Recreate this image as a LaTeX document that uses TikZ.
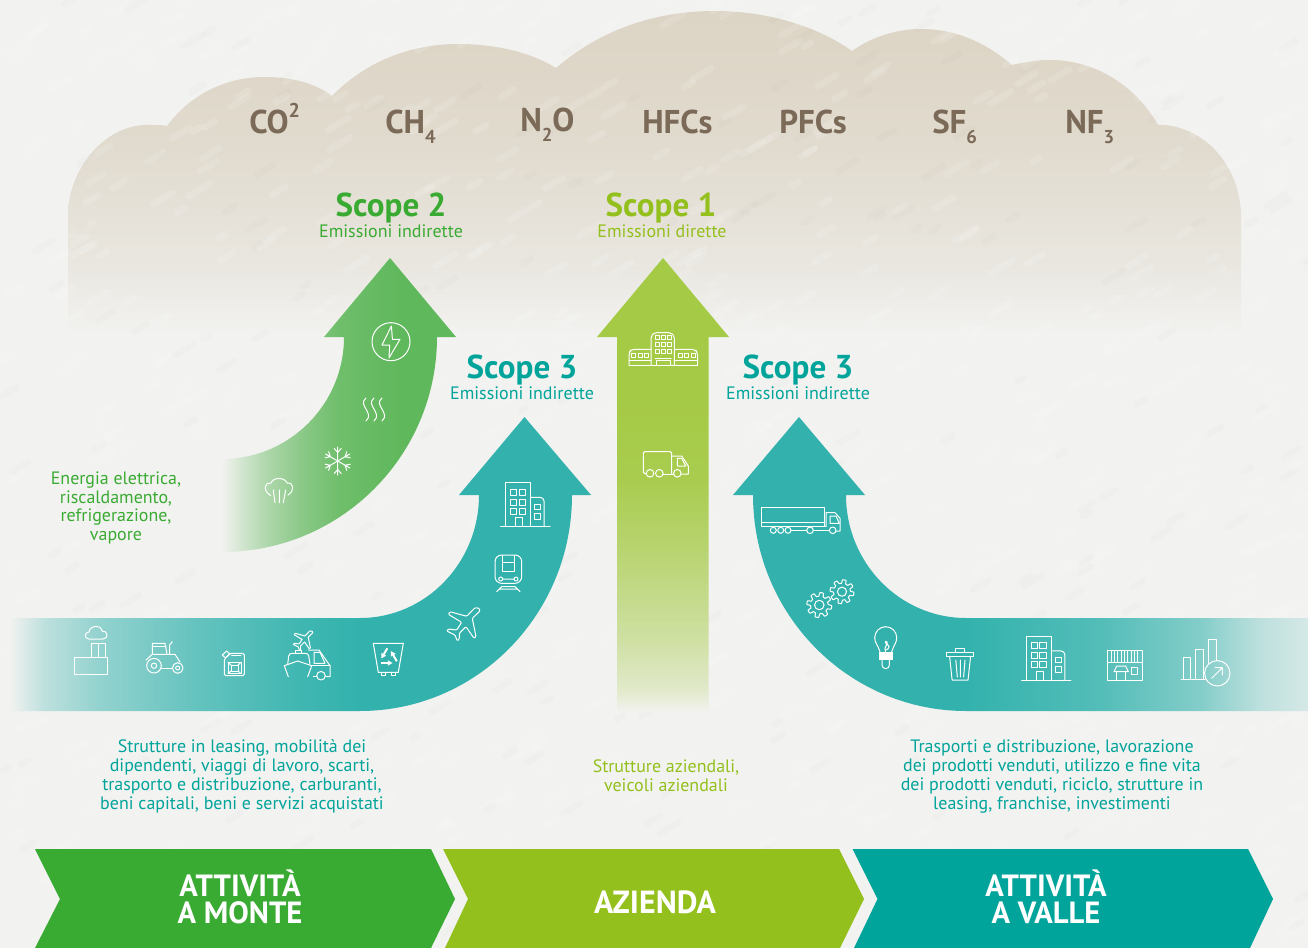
\documentclass[tikz,border=0pt]{standalone}
\usepackage{fontspec}
\setmainfont{PT Sans}
\definecolor{bgc}{HTML}{F2F2F0}
\definecolor{gasc}{HTML}{7C6A58}
\definecolor{gr}{HTML}{3AAB32}
\definecolor{li}{HTML}{93C01C}
\definecolor{te}{HTML}{00A49A}
\definecolor{armt}{HTML}{33B2AD}
\definecolor{armg}{HTML}{60B85C}
\definecolor{arml}{HTML}{A5CA46}
\pgfdeclarehorizontalshading{shTL}{100bp}{color(0bp)=(bgc); color(25bp)=(bgc); color(28bp)=(bgc!72!armt); color(32.7bp)=(bgc!50!armt); color(41.4bp)=(bgc!25!armt); color(50bp)=(bgc!7!armt); color(55bp)=(armt); color(100bp)=(armt)}
\pgfdeclarehorizontalshading{shTR}{100bp}{color(0bp)=(armt); color(45.3bp)=(armt); color(56.9bp)=(bgc!17!armt); color(65.6bp)=(bgc!42!armt); color(70.8bp)=(bgc!72!armt); color(75bp)=(bgc!85!armt); color(100bp)=(bgc!85!armt)}
\pgfdeclarehorizontalshading{shG}{100bp}{color(0bp)=(bgc); color(25bp)=(bgc); color(28.8bp)=(bgc!80!armg); color(34.2bp)=(bgc!55!armg); color(41.7bp)=(bgc!30!armg); color(50.2bp)=(bgc!10!armg); color(63bp)=(armg); color(100bp)=(armg)}
\pgfdeclareverticalshading{shL}{100bp}{color(0bp)=(bgc); color(25bp)=(bgc); color(27.4bp)=(bgc!78!arml); color(32.9bp)=(bgc!55!arml); color(41.7bp)=(bgc!28!arml); color(50.6bp)=(bgc!5!arml); color(60bp)=(arml); color(100bp)=(arml)}
\definecolor{cldA}{HTML}{DCD4C4}
\definecolor{cldB}{HTML}{E1DBCF}
\definecolor{cldC}{HTML}{E9E6DF}
\pgfdeclareverticalshading{shC}{100bp}{color(0bp)=(bgc); color(25bp)=(bgc); color(36.6bp)=(cldC); color(53.5bp)=(cldB); color(75bp)=(cldA); color(100bp)=(cldA)}
\tikzset{
  ic/.style={draw=white,line width=0.75pt,line join=round,line cap=round},
  gas/.style={anchor=base west,inner sep=0pt,text=gasc,font=\fontsize{24.7}{26}\selectfont\bfseries},
  scopett/.style={inner sep=0pt,font=\fontsize{24.8}{26}\selectfont\bfseries},
  scopesub/.style={inner sep=0pt,font=\fontsize{13.5}{14}\selectfont},
  para/.style={inner sep=0pt,align=center,font=\fontsize{13.45}{14.1}\selectfont},
  chevlab/.style={inner sep=0pt,align=center,text=white,font=\fontsize{23}{20.2}\selectfont\bfseries}
}
\newcommand{\gsub}[1]{\raisebox{-0.3em}{\fontsize{14}{14}\selectfont #1}}
\newcommand{\gsup}[1]{\raisebox{0.5em}{\fontsize{15}{15}\selectfont #1}}
\newcommand{\planeshape}{(479.3,608.3)--(475,607.7)--(466.7,616.3)--(450,611.7)--(448.3,614.3)--(461.7,622.3)--(456.7,630)--(448.3,629)--(446.7,631)--(455,635)--(457.3,641)--(459.3,639)--(459.3,633.3)--(466,626.7)--(474,638.3)--(476,636.7)--(472.3,618.3)--(480,611)--cycle}
\newcommand{\officeicon}[2]{%
 \begin{scope}[shift={(#1,#2)}]
  \draw[ic] (0,44)--(0,0)--(24.4,0)--(24.4,44);
  \draw[ic,rounded corners=3pt] (24.4,14.6)--(38.2,14.6)--(38.2,44);
  \draw[ic] (-5.2,44)--(44.1,44);
  \foreach \yy in {6.3,16.6,25.6}{\draw[ic] (4.4,\yy) rectangle ++(5.9,6); \draw[ic] (13.1,\yy) rectangle ++(6.9,6);}
  \draw[ic] (9.6,44)--(9.6,35)--(16.5,35)--(16.5,44);
  \draw[ic] (28.6,21.3) rectangle ++(5.8,5.3);
  \draw[ic] (28.6,30.6) rectangle ++(5.8,5.7);
 \end{scope}}
\newcommand{\gearicon}[3]{%
 \draw[ic] plot[domain=0:360,samples=145,variable=\t] ({#1+(#3)*(.85+.15*max(-1,min(1,2.5*sin(8*\t))))*cos(\t)},{#2+(#3)*(.85+.15*max(-1,min(1,2.5*sin(8*\t))))*sin(\t)})--cycle;
 \draw[ic] (#1,#2) circle[radius=#3*.38];}
\begin{document}
\begin{tikzpicture}[x=0.75pt,y=-0.75pt]
\useasboundingbox (0,0) rectangle (1308,948);
\clip (0,0) rectangle (1308,948);
\fill[bgc] (0,0) rectangle (1308,948);
% cloud
\path[shading=shC] (68,335)--(68,215) .. controls (68,170) and (105,122) .. (152,125) .. controls (158,125) and (163,125) .. (167,126)
 .. controls (190,95) and (225,77) .. (265,77) .. controls (295,77) and (318,85) .. (332,96)
 .. controls (365,62) and (410,44) .. (458,44) .. controls (495,44) and (530,52) .. (556,68)
 .. controls (600,30) and (655,11) .. (715,11) .. controls (770,11) and (820,28) .. (852,51)
 .. controls (870,38) and (895,29) .. (921,29) .. controls (955,29) and (985,42) .. (1012,65)
 .. controls (1025,62) and (1040,60) .. (1050,60) .. controls (1095,60) and (1135,85) .. (1158,125)
 .. controls (1160,125) and (1162,125) .. (1165,125) .. controls (1210,130) and (1240,170) .. (1241,215)--(1241,335)--cycle;
% paper texture
\pgfmathsetseed{42}
\foreach \i in {1,...,700}{
  \pgfmathsetmacro\xa{rnd*1308}\pgfmathsetmacro\ya{rnd*948}\pgfmathsetmacro\ln{6+rnd*16}
  \draw[white,opacity=.13,line width=5pt,line cap=round] (\xa,\ya)--++(\ln,-\ln*.6);
}
\foreach \i in {1,...,240}{
  \pgfmathsetmacro\xa{rnd*1308}\pgfmathsetmacro\ya{rnd*948}\pgfmathsetmacro\ln{5+rnd*14}
  \draw[black,opacity=.012,line width=5pt,line cap=round] (\xa,\ya)--++(\ln,-\ln*.6);
}
% arrows
\path[shading=shTL] (10,618)--(360,618) .. controls (425.7,618) and (479,562.9) .. (479,495)--(459,495)--(524.5,417)--(591,495)--(572,495) .. controls (572,614.3) and (477.1,711) .. (360,711)--(10,711)--cycle;
\path[shading=shTR] (1308,618)--(966,618) .. controls (899.7,618) and (846,562.9) .. (846,495)--(865,495)--(799,417)--(733,495)--(753,495) .. controls (753,614.3) and (848.4,711) .. (966,711)--(1308,711)--cycle;
\path[shading=shG] (222,459) .. controls (289.4,459) and (344,404.4) .. (344,337)--(324,337)--(390,258)--(456,337)--(437,337) .. controls (437,455.7) and (340.7,552) .. (222,552)--cycle;
\path[shading=shL] (617,712)--(617,337)--(597,337)--(663,258)--(729,337)--(708.5,337)--(708.5,712)--cycle;
% chevrons
\fill[gr] (35,849)--(431,849)--(455,899)--(431,948)--(35,948)--(60,899)--cycle;
\fill[li] (443,849)--(839,849)--(864,899)--(840,948)--(445,948)--(468,899)--cycle;
\fill[te] (852.5,849)--(1248,849)--(1273,899)--(1250,948)--(854,948)--(877.5,899)--cycle;
% icons left band: factory
\draw[ic] (74,657.7) rectangle (107.3,674.3);
\draw[ic] (91,657.7)--(91,643.3)--(98.3,643.3)--(98.3,657.7) (98.8,657.7)--(98.8,643.3)--(105.7,643.3)--(105.7,657.7);
\draw[ic] (89,639) .. controls (84,639) and (84,632) .. (89,632) .. controls (90,625) and (101,624) .. (102,631) .. controls (108,630) and (109,639) .. (103,639)--cycle;
% tractor
\draw[ic] (154,665.7) circle[radius=7.3] (154,665.7) circle[radius=2.7] (177.7,668) circle[radius=5.3] (177.7,668) circle[radius=2];
\draw[ic] (152.3,654.3)--(152.3,643.3)--(165,643.3)--(167,654.3)--(175,654.3)--(180,662);
\draw[ic] (146,660)--(152.3,654.3)--(167,654.3);
\draw[ic] (161.7,668.3)--(172.3,668.3);
\draw[ic] (152.3,646.7)--(166,646.7);
\draw[ic] (172.3,641.7)--(169.7,645)--(169.7,654);
% jerrycan
\draw[ic,rounded corners=1.2pt] (230,653.3)--(244.3,653.3)--(244.3,675.7)--(224.3,675.7)--(224.3,659)--cycle;
\draw[ic] (222.3,655)--(226.7,651)--(230,654)--(225.6,658)--cycle;
\draw[ic] (231.7,655.7)--(241,655.7);
\draw[ic] (228,662.3) rectangle (241,673.6);
\draw[ic] (231,665)--(238,665)--(238,671)--(231,671)--cycle;
\draw[ic] (228,662.3)--(231,665) (241,662.3)--(238,665) (228,673.6)--(231,671) (241,673.6)--(238,671);
% ship + truck + plane
\draw[ic] (288.3,676.7)--(284.3,665.7)--(297.7,661)--(311.7,665.7)--(307.7,676.7);
\draw[ic,rounded corners=2pt] (287.7,664.3)--(289,653.3)--(308.3,653.3)--(310,664.3);
\draw[ic] (295,653.3)--(295,650)--(301,650)--(301,653.3);
\draw[ic] (308.3,650)--(319,650)--(330,665.7)--(330,676.7)--(326,676.7);
\draw[ic] (321,675.7) circle[radius=4.3];
\draw[ic] (314,663)--(314,652.3)--(320,652.3)--(325,663.3)--(314,663.3);
\draw[ic] (310,665.7)--(330,665.7) (313.3,676.7)--(316.7,676.7);
\begin{scope}[shift={(303,640)},scale=.58,shift={(-463.3,-623.3)}]
 \draw[ic] \planeshape;
\end{scope}
% recycling bin
\draw[ic] (373.3,643.3)--(403.3,643.3)--(398.3,672.3)--(378.3,672.3)--cycle;
\draw[ic] (381,672.3)--(381,675.5)--(385.5,675.5)--(385.5,672.3) (391,672.3)--(391,675.5)--(395.5,675.5)--(395.5,672.3);
\foreach \r in {0,120,240}{
 \begin{scope}[shift={(388.3,657.5)},rotate=\r]
  \draw[white,line width=1.5pt] (-7.5,5.5)--(-0.5,5.5);
  \fill[white] (-0.5,2.8)--(4.2,5.5)--(-0.5,8.2)--cycle;
 \end{scope}}
% plane, train, office on left arrow
\draw[ic,rounded corners=.8pt] \planeshape;
\draw[ic,rounded corners=5pt] (495,583.3)--(495,555)--(521.7,555)--(521.7,583.3)--cycle;
\draw[ic] (502.7,555.5)--(502.7,571.7)--(514,571.7)--(514,555.5) (502.7,562)--(514,562);
\draw[ic] (500.7,579) circle[radius=2] (516,579) circle[radius=2] (503,579)--(513.7,579);
\draw[ic] (496.7,591.7)--(501.7,586.7)--(515,586.7)--(520,591.7) (499,589)--(517.3,589);
\officeicon{505.9}{482.7}
% right band
\draw[ic] (761.7,507.3) rectangle (824,526);
\draw[ic] (761.7,522.7)--(824,522.7);
\draw[ic] (826,526)--(826,512.7)--(835,512.7)--(840,518.3)--(840,531)--(836,531);
\draw[ic] (830,516)--(836,516)--(839.3,523.3)--(830,523.3)--cycle;
\draw[ic] (773.3,530.3) circle[radius=3] (780.7,530.3) circle[radius=3] (788,530.3) circle[radius=3] (810,530.3) circle[radius=3.3] (832.7,530.3) circle[radius=3.3];
\draw[ic] (791,530)--(806.7,530) (814,530)--(829.3,530) (813,526)--(826,526);
\gearicon{819.3}{605}{12.5}
\gearicon{842}{591.7}{12}
% bulb
\draw[ic] (880,651.7) .. controls (878,645) and (874.7,643) .. (874.7,637.7) arc[start angle=180,end angle=360,radius=11] .. controls (896.7,643) and (893.7,645) .. (891.7,651.7);
\fill[white] (879.3,652.3) rectangle (892.7,660);
\draw[ic] (882,660)--(882,665) arc[start angle=180,end angle=0,radius=3.7]--(889.4,660);
\draw[ic] (885.5,652) .. controls (883,646) and (889,645) .. (887,642) .. controls (885,640) and (884,643) .. (888,645) .. controls (891,647) and (887,650) .. (885.5,650);
% trash
\draw[ic] (946.6,652) rectangle (973.5,656.3);
\draw[ic] (955,652)--(955,648.3)--(964.3,648.3)--(964.3,652);
\draw[ic] (949.6,656.3)--(952.1,680)--(968,680)--(970.6,656.3);
\draw[ic] (955.8,660)--(957.3,677) (960.3,660)--(960.3,677) (965,660)--(963.6,677);
\officeicon{1026.7}{636.3}
% shop
\draw[ic] (1107.3,650) rectangle (1142.7,680);
\draw[ic] (1107.3,662.7)--(1142.7,662.7);
\foreach \sx in {1111,1114.3,...,1140}{\draw[white,line width=.45pt] (\sx,650)--(\sx,662.7);}
\draw[ic] (1114,671.7)--(1116.7,666)--(1125.7,666)--(1128.3,671.7)--cycle;
\draw[ic] (1116.7,671.7)--(1116.7,680) (1125.7,671.7)--(1125.7,680);
\draw[ic] (1131.7,667.7) rectangle (1137.7,674);
% chart
\draw[ic] (1183.3,679)--(1183.3,657.7)--(1190.7,657.7)--(1190.7,679);
\draw[ic] (1195.7,679)--(1195.7,649)--(1203.3,649)--(1203.3,679);
\draw[ic] (1208.3,664)--(1208.3,639.3)--(1216,639.3)--(1216,660.6);
\draw[ic] (1181,679)--(1205,679);
\draw[ic] (1217.3,673.3) circle[radius=12.7];
\draw[ic] (1211.7,678.3)--(1222.3,667.7) (1215,667.7)--(1222.3,667.7)--(1222.3,675);
% centre arrow icons
\draw[ic,rounded corners=4pt] (651,365)--(651,332.7)--(674.3,332.7)--(674.3,365);
\draw[ic,rounded corners=2.5pt] (651,349.3)--(631,349.3)--(629,353)--(629,365);
\draw[ic,rounded corners=2.5pt] (674.3,349.3)--(695,349.3)--(697.7,353)--(697.7,365);
\draw[ic] (629,365)--(697.7,365) (629,360)--(651,360) (674.3,360)--(697.7,360);
\foreach \cx in {657.3,663.3,669.3}{\foreach \cy in {337.5,344.5,351.5}{\draw[ic,line width=.55pt] (\cx-2,\cy-2) rectangle (\cx+2,\cy+2);}}
\foreach \cx in {633.3,640,646.7,680,686.7,693.3}{\draw[ic,line width=.55pt] (\cx-2,353) rectangle (\cx+2,357);}
\draw[ic] (655,358)--(671,358);
\draw[ic] (656.7,365)--(656.7,360.7)--(670,360.7)--(670,365);
\draw[ic,rounded corners=1pt] (646.2,473.5)--(643.3,473.5)--(643.3,451.7)--(671.7,451.7)--(671.7,474);
\draw[ic] (671.7,456)--(681.7,456)--(688.3,466)--(688.3,474)--(681.7,474);
\draw[ic] (677.3,458.3)--(681.7,458.3)--(685.7,466)--(677.3,466)--cycle;
\draw[ic] (650,473.3) circle[radius=3.8] (659.3,473.3) circle[radius=3.8] (677.3,473.3) circle[radius=3.8];
\draw[ic] (663.3,474)--(673.4,474);
% green arrow icons
\draw[ic] (391,341.7) circle[radius=19];
\draw[ic] (391.4,326)--(382,345)--(389.7,345)--(389,358)--(400,339.3)--(392.4,339.3)--cycle;
\foreach \hx in {365,373,381}{\draw[ic] (\hx+1,398) .. controls (\hx-8,405) and (\hx+10,413) .. (\hx+1,421);}
\foreach \a in {30,90,...,330}{
 \begin{scope}[shift={(337.7,461)},rotate=\a]
  \draw[ic] (0,0)--(14,0) (8.5,0)--(12.5,-3.5) (8.5,0)--(12.5,3.5);
 \end{scope}}
\draw[ic] (270.5,495.5) .. controls (262,490) and (265,482) .. (271,483) .. controls (273,477) and (285,477) .. (287,483) .. controls (294,482) and (295,491) .. (288,495);
\draw[ic] (273.3,490)--(275,502.7) (279.3,490)--(279.3,502.7) (285.7,490)--(283.3,502.7);
% gas labels
\node[gas] (gco) at (249,134) {CO\gsup{2}};
\node[gas] (gch) at (385,134) {CH\gsub{4}};
\node[gas] (gno) at (520,131.5) {N\gsub{2}O};
\node[gas] (ghf) at (642,134) {HFCs};
\node[gas] (gpf) at (779,134) {PFCs};
\node[gas] (gsf) at (932,134) {SF\gsub{6}};
\node[gas] (gnf) at (1065,134) {NF\gsub{3}};
% scope labels
\node[scopett,text=gr] (s2) at (391,208) {Scope 2};
\node[scopesub,text=gr] (s2b) at (391,231) {Emissioni indirette};
\node[scopett,text=li] (s1) at (661,208) {Scope 1};
\node[scopesub,text=li] (s1b) at (662,231) {Emissioni dirette};
\node[scopett,text=te] (s3a) at (522,370) {Scope 3};
\node[scopesub,text=te] (s3ab) at (522,393) {Emissioni indirette};
\node[scopett,text=te] (s3b) at (798,370) {Scope 3};
\node[scopesub,text=te] (s3bb) at (798,393) {Emissioni indirette};
% paragraphs
\node[para,text=gr] (t0) at (116,508) {Energia elettrica,\\riscaldamento,\\refrigerazione,\\vapore};
\node[para,text=te] (t1) at (242,776.5) {Strutture in leasing, mobilità dei\\dipendenti, viaggi di lavoro, scarti,\\trasporto e distribuzione, carburanti,\\beni capitali, beni e servizi acquistati};
\node[para,text=li] (t2) at (666,776) {Strutture aziendali,\\veicoli aziendali};
\node[para,text=te] (t3) at (1052,776.5) {Trasporti e distribuzione, lavorazione\\dei prodotti venduti, utilizzo e fine vita\\dei prodotti venduti, riciclo, strutture in\\leasing, franchise, investimenti};
% chevron labels
\node[chevlab] (c1) at (240,896.5) {ATTIVITÀ\\A MONTE};
\node[chevlab,font=\fontsize{24}{24}\selectfont\bfseries] (c2) at (655,902) {AZIENDA};
\node[chevlab] (c3) at (1046,896.5) {ATTIVITÀ\\A VALLE};
\end{tikzpicture}
\end{document}
